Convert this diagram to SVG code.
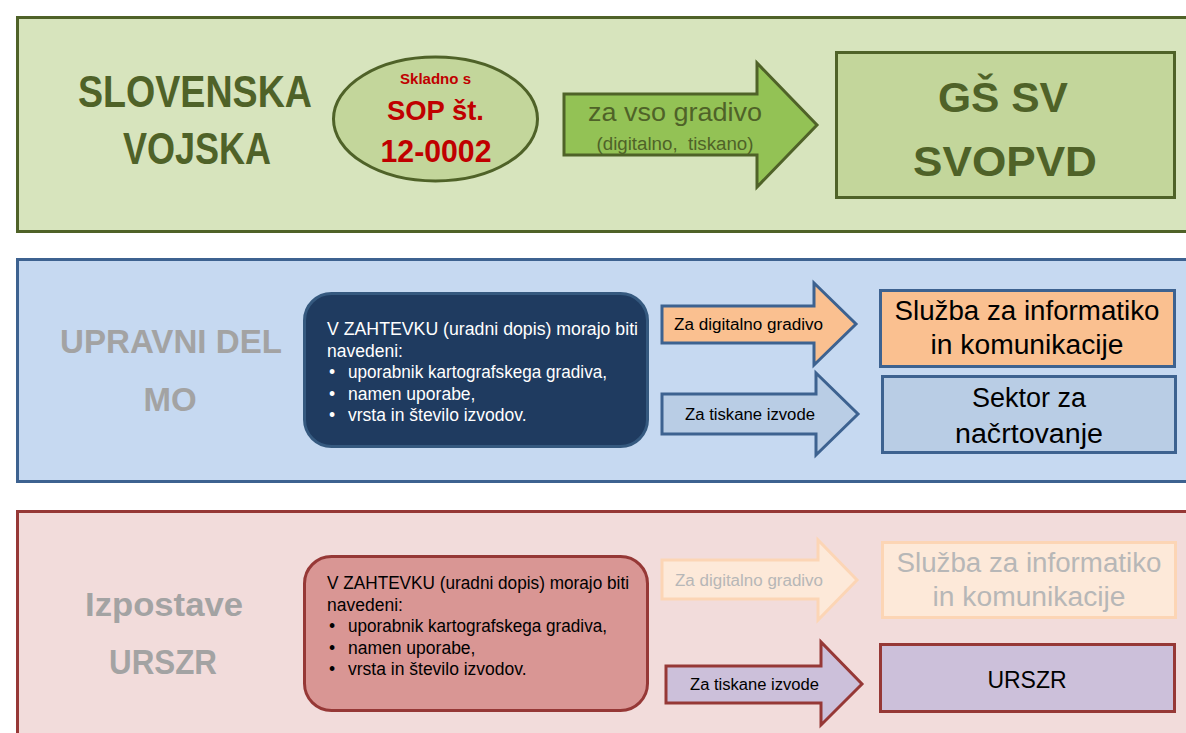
<svg xmlns="http://www.w3.org/2000/svg" width="1186" height="733" viewBox="0 0 1186 733">
<style>
text{font-family:"Liberation Sans",Arial,sans-serif}
.b{font-weight:bold}
.mid{text-anchor:middle}
.g1{fill:#4f6228}
.gray{fill:#a3a3a3}
.faded{fill:#b7b7b7}
.red{fill:#c00000}
.blk{fill:#000}
.wht{fill:#ffffff}
.bluestroke{stroke:#3d6290;stroke-width:3}
.redstroke{stroke:#963836;stroke-width:3}
.greenstroke{stroke:#4f6228;stroke-width:3}
.req{font-size:17.5px}
</style>

<!-- Panels -->
<g id="panel-sv">
<rect x="17.5" y="17.5" width="1200" height="214" fill="#d7e4bd" class="greenstroke"/>
<text class="b mid g1" x="195" y="107" font-size="44" textLength="234" lengthAdjust="spacingAndGlyphs">SLOVENSKA</text>
<text class="b mid g1" x="197" y="164" font-size="44" textLength="148" lengthAdjust="spacingAndGlyphs">VOJSKA</text>
</g>

<g id="panel-mo">
<rect x="17.5" y="259.5" width="1200" height="222" fill="#c6d9f1" class="bluestroke"/>
<text class="b mid gray" x="171" y="353" font-size="33" textLength="222" lengthAdjust="spacingAndGlyphs">UPRAVNI DEL</text>
<text class="b mid gray" x="170" y="411" font-size="33">MO</text>
</g>

<g id="panel-urszr">
<rect x="17.5" y="511.5" width="1200" height="300" fill="#f2dcdb" class="redstroke"/>
<text class="b mid gray" x="164" y="616" font-size="34" textLength="158" lengthAdjust="spacingAndGlyphs">Izpostave</text>
<text class="b mid gray" x="163" y="674" font-size="35" textLength="108" lengthAdjust="spacingAndGlyphs">URSZR</text>
</g>

<!-- Nodes -->
<g id="sop">
<ellipse cx="435.5" cy="119" rx="102" ry="62" fill="#c3d69b" class="greenstroke"/>
<text class="b mid red" x="435.5" y="84" font-size="15.5" textLength="71" lengthAdjust="spacingAndGlyphs">Skladno s</text>
<text class="b mid red" x="435.5" y="120" font-size="28" textLength="97" lengthAdjust="spacingAndGlyphs">SOP št.</text>
<text class="b mid red" x="436" y="162" font-size="31" textLength="111" lengthAdjust="spacingAndGlyphs">12-0002</text>
</g>

<g id="gs-sv">
<rect x="836.5" y="52.5" width="338" height="145" fill="#c3d69b" class="greenstroke"/>
<text class="b mid g1" x="1003" y="112" font-size="42" textLength="130" lengthAdjust="spacingAndGlyphs">GŠ SV</text>
<text class="b mid g1" x="1005" y="176" font-size="42" textLength="184" lengthAdjust="spacingAndGlyphs">SVOPVD</text>
</g>

<g id="zahtevek-mo">
<rect x="304.5" y="293.5" width="343" height="153" rx="27" fill="#1f3b60" stroke="#35597f" stroke-width="3"/>
<text class="wht req" x="327" y="335" textLength="311" lengthAdjust="spacingAndGlyphs">V ZAHTEVKU (uradni dopis) morajo biti</text>
<text class="wht req" x="327" y="357">navedeni:</text>
<text class="wht req" x="329" y="378">•</text>
<text class="wht req" x="348" y="378" textLength="259" lengthAdjust="spacingAndGlyphs">uporabnik kartografskega gradiva,</text>
<text class="wht req" x="329" y="400">•</text>
<text class="wht req" x="348" y="400">namen uporabe,</text>
<text class="wht req" x="329" y="421">•</text>
<text class="wht req" x="348" y="421">vrsta in število izvodov.</text>
</g>

<g id="sluzba-mo">
<rect x="880.5" y="290.5" width="294" height="76" fill="#fac090" class="bluestroke"/>
<text class="mid blk" x="1027" y="320" font-size="27" textLength="265" lengthAdjust="spacingAndGlyphs">Služba za informatiko</text>
<text class="mid blk" x="1027" y="354" font-size="27" textLength="193" lengthAdjust="spacingAndGlyphs">in komunikacije</text>
</g>

<g id="sektor">
<rect x="882.5" y="376.5" width="293" height="76" fill="#b9cde5" class="bluestroke"/>
<text class="mid blk" x="1029" y="407" font-size="27" textLength="114" lengthAdjust="spacingAndGlyphs">Sektor za</text>
<text class="mid blk" x="1029" y="443" font-size="27" textLength="148" lengthAdjust="spacingAndGlyphs">načrtovanje</text>
</g>

<g id="zahtevek-urszr">
<rect x="304.5" y="556.5" width="343" height="154" rx="27" fill="#d99694" class="redstroke"/>
<text class="blk req" x="327" y="589" textLength="302" lengthAdjust="spacingAndGlyphs">V ZAHTEVKU (uradni dopis) morajo biti</text>
<text class="blk req" x="327" y="611">navedeni:</text>
<text class="blk req" x="329" y="632">•</text>
<text class="blk req" x="348" y="632" textLength="259" lengthAdjust="spacingAndGlyphs">uporabnik kartografskega gradiva,</text>
<text class="blk req" x="329" y="654">•</text>
<text class="blk req" x="348" y="654">namen uporabe,</text>
<text class="blk req" x="329" y="675">•</text>
<text class="blk req" x="348" y="675">vrsta in število izvodov.</text>
</g>

<g id="sluzba-urszr">
<rect x="882.5" y="542.5" width="293" height="75" fill="#fde9d9" stroke="#fcd5b5" stroke-width="3"/>
<text class="mid faded" x="1029" y="572" font-size="27" textLength="265" lengthAdjust="spacingAndGlyphs">Služba za informatiko</text>
<text class="mid faded" x="1029" y="606" font-size="27" textLength="193" lengthAdjust="spacingAndGlyphs">in komunikacije</text>
</g>

<g id="urszr">
<rect x="880.5" y="644.5" width="294" height="67" fill="#ccc0da" class="redstroke"/>
<text class="mid blk" x="1027" y="688" font-size="23">URSZR</text>
</g>

<!-- Connectors (block arrows) -->
<g id="connectors">
<g id="arrow-vso">
<polygon points="564,94 757,94 757,63 817,125 757,187 757,155 564,155" fill="#93c255" class="greenstroke"/>
<text class="mid g1" x="675" y="121" font-size="26" textLength="174" lengthAdjust="spacingAndGlyphs">za vso gradivo</text>
<text class="mid g1" x="675" y="150" font-size="18" textLength="157" lengthAdjust="spacingAndGlyphs" style="white-space:pre">(digitalno,  tiskano)</text>
</g>
<g id="arrow-mo-digital">
<polygon points="662,306 814,306 814,283 856,324 814,365 814,343 662,343" fill="#fac090" class="bluestroke"/>
<text class="blk" x="674" y="330" font-size="16" textLength="149" lengthAdjust="spacingAndGlyphs">Za digitalno gradivo</text>
</g>
<g id="arrow-mo-tisk">
<polygon points="662,394 816,394 816,373 858,414 816,455 816,434 662,434" fill="#b9cde5" class="bluestroke"/>
<text class="blk" x="685" y="420" font-size="16" textLength="130" lengthAdjust="spacingAndGlyphs">Za tiskane izvode</text>
</g>
<g id="arrow-urszr-digital">
<polygon points="662,560 818,560 818,540 857,580 818,620 818,599 662,599" fill="#fde9d9" stroke="#fcd5b5" stroke-width="3"/>
<text class="faded" x="675" y="586" font-size="16" textLength="148" lengthAdjust="spacingAndGlyphs">Za digitalno gradivo</text>
</g>
<g id="arrow-urszr-tisk">
<polygon points="666,666 821,666 821,642 862,684 821,725 821,703 666,703" fill="#ccc0da" class="redstroke"/>
<text class="blk" x="690" y="690" font-size="16" textLength="129" lengthAdjust="spacingAndGlyphs">Za tiskane izvode</text>
</g>
</g>
</svg>
